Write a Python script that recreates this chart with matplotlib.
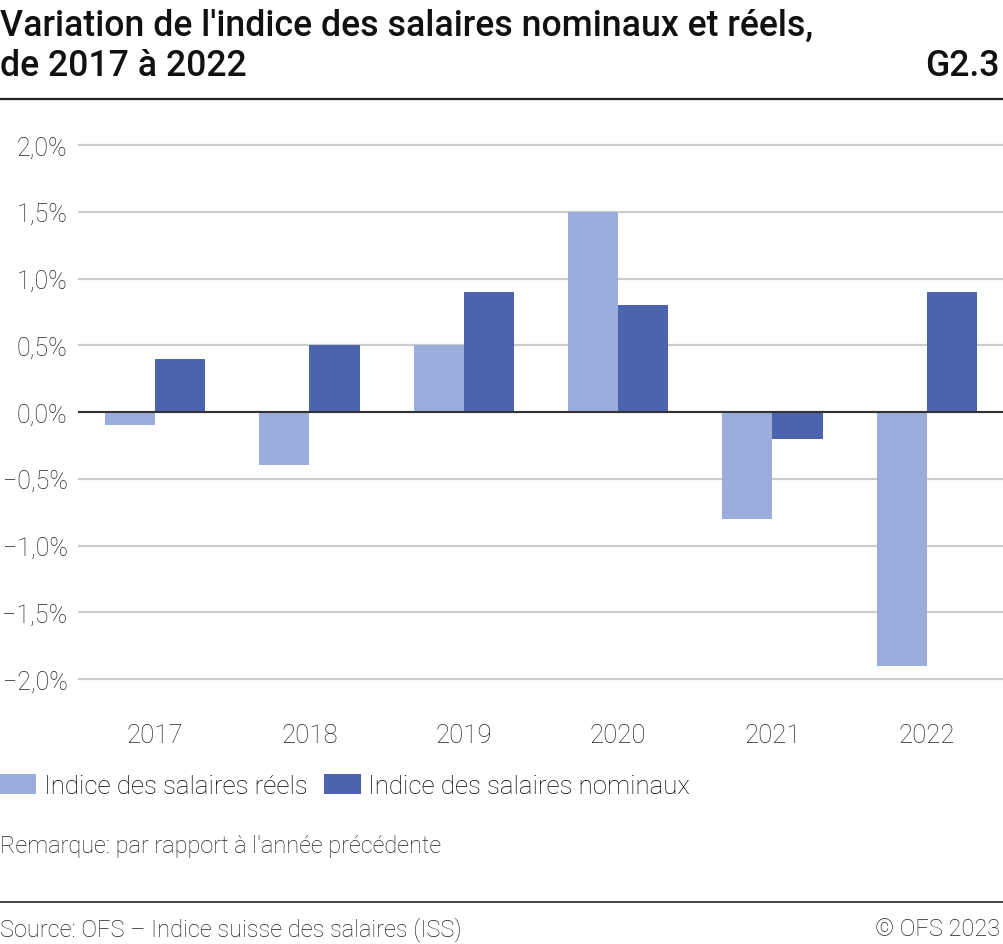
import numpy as np
import matplotlib
matplotlib.use('Agg')
from matplotlib import pyplot as plt

plt.rcParams['font.family'] = ['Roboto', 'DejaVu Sans']

# data
years = ['2017', '2018', '2019', '2020', '2021', '2022']
reels = [-0.1, -0.4, 0.5, 1.5, -0.8, -1.9]
nominaux = [0.4, 0.5, 0.9, 0.8, -0.2, 0.9]
yticks = [-2.0, -1.5, -1.0, -0.5, 0.0, 0.5, 1.0, 1.5, 2.0]
labels = ['Indice des salaires réels', 'Indice des salaires nominaux']

c_light = '#9badda'
c_dark = '#4c63ae'

W, H = 1004, 945
fig = plt.figure(figsize=(W/100, H/100), dpi=100)

# axes placed in pixel coords
ax_l, ax_r, ax_t, ax_b = 78, 1004, 130, 700
ax = fig.add_axes([ax_l/W, 1-ax_b/H, (ax_r-ax_l)/W, (ax_b-ax_t)/H])

x = np.arange(len(years))
bw = 0.325
b1 = ax.bar(x-bw/2, reels, bw, color=c_light, label=labels[0], zorder=3)
b2 = ax.bar(x+bw/2, nominaux, bw, color=c_dark, label=labels[1], zorder=3)

ppu = 133.5  # pixels per 1%
ax.set_ylim(-2.0-(ax_b-680)/ppu, 2.0+(146-ax_t)/ppu)
ax.set_xlim(-0.5, 5.5)
ax.set_yticks(yticks)
ax.set_yticklabels([('%.1f%%' % v).replace('.', ',').replace('-', '−') for v in yticks])
ax.set_xticks(x)
ax.set_xticklabels(years)
ax.tick_params(axis='both', length=0, colors='#222222')
ax.tick_params(axis='y', pad=7.5, labelsize=18)
ax.tick_params(axis='x', pad=17, labelsize=18.5)
for t in ax.get_xticklabels() + ax.get_yticklabels():
    t.set_fontweight('light')
ax.yaxis.grid(True, color='#cccccc', lw=1.6, zorder=0)
ax.axhline(0, color='#333333', lw=1.5, zorder=4)
for s in ax.spines.values():
    s.set_visible(False)

# title
fig.text(0, 1-36/H, "Variation de l'indice des salaires nominaux et réels,",
         fontsize=25.7, fontweight='medium', ha='left', va='baseline', color='#111111')
fig.text(0, 1-76/H, "de 2017 à 2022", fontsize=25.7, fontweight='medium',
         ha='left', va='baseline', color='#111111')
fig.text(1000/W, 1-76/H, "G2.3", fontsize=25.7, fontweight='medium',
         ha='right', va='baseline', color='#111111')
fig.add_artist(plt.Line2D([0, 1], [1-100/H, 1-100/H], color='#222222', lw=1.6))
fig.add_artist(plt.Line2D([0, 1], [1-903/H, 1-903/H], color='#222222', lw=1.2))

# legend
leg = fig.legend(handles=[b1, b2], loc='center left', bbox_to_anchor=(0, 1-787/H),
                 ncol=2, frameon=False, fontsize=18.6, handlelength=1.4, handleheight=0.85,
                 handletextpad=0.3, columnspacing=0.65, borderpad=0, borderaxespad=0)
for t in leg.get_texts():
    t.set_fontweight('light')

fig.text(0, 1-847/H, "Remarque: par rapport à l'année précédente", fontsize=16.9,
         fontweight='light', ha='left', va='center', color='#222222')
fig.text(0, 1-930/H, "Source: OFS – Indice suisse des salaires (ISS)", fontsize=17,
         fontweight='light', ha='left', va='center', color='#222222')
fig.text(1000/W, 1-930/H, "© OFS 2023", fontsize=17,
         fontweight='light', ha='right', va='center', color='#222222')

plt.savefig('out.png', dpi=100)
